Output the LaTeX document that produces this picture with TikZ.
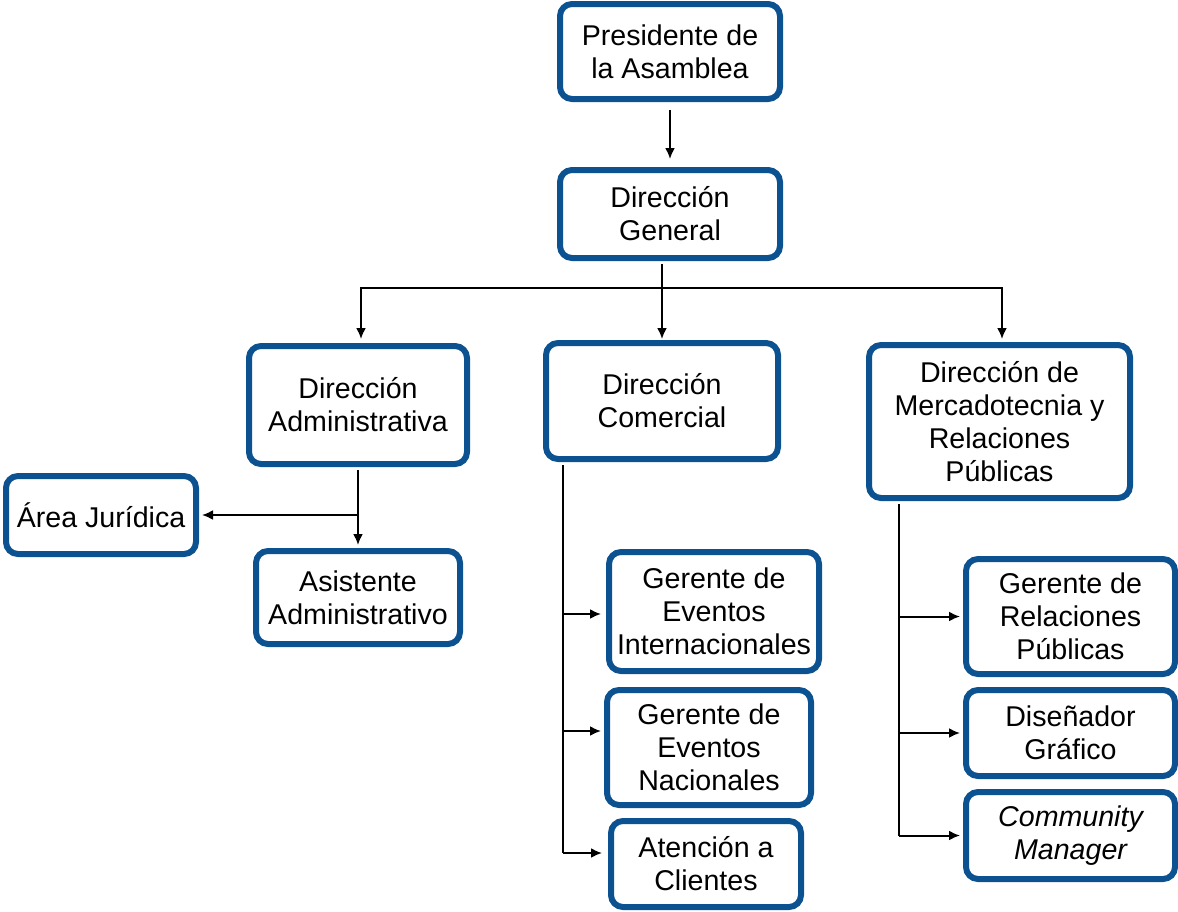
\documentclass[tikz,border=0pt]{standalone}
\usepackage{fontspec}
\setmainfont{Liberation Sans}
\usetikzlibrary{arrows.meta,calc}
\definecolor{boxblue}{RGB}{12,82,145}
\begin{document}
\begin{tikzpicture}[x=0.5pt,y=-0.5pt,
  box/.style={draw=boxblue,line width=3pt,rounded corners=6pt,fill=white,
    align=center,inner sep=0pt,font=\fontsize{14.3}{16.5}\selectfont},
  arr/.style={line width=1pt,-{Latex[length=5.5pt,width=5pt]}},
  ln/.style={line width=1pt}]
\useasboundingbox (0,0) rectangle (1178,911);
\node[box,minimum width=110pt,minimum height=47.5pt] (pres) at (670,51.5) {Presidente de\\la Asamblea};
\node[box,minimum width=110pt,minimum height=44pt] (dg) at (670,214) {Dirección\\General};
\node[box,minimum width=109pt,minimum height=59pt] (adm) at (358,405) {Dirección\\Administrativa};
\node[box,minimum width=116pt,minimum height=58pt] (com) at (662,401) {Dirección\\Comercial};
\node[box,minimum width=130.5pt,minimum height=76.5pt] (mer) at (999.5,421.5) {Dirección de\\Mercadotecnia y\\Relaciones\\Públicas};
\node[box,minimum width=95pt,minimum height=39pt] (jur) at (101,515) {Área Jurídica};
\node[box,minimum width=102pt,minimum height=46.5pt] (asi) at (358,597.5) {Asistente\\Administrativo};
\node[box,minimum width=105pt,minimum height=59.5pt] (gei) at (714,611.5) {Gerente de\\Eventos\\Internacionales};
\node[box,minimum width=102pt,minimum height=57.5pt] (gen) at (709,747.5) {Gerente de\\Eventos\\Nacionales};
\node[box,minimum width=95pt,minimum height=43pt] (ac) at (706,864) {Atención a\\Clientes};
\node[box,minimum width=104.5pt,minimum height=57.5pt] (grp) at (1070.5,616.5) {Gerente de\\Relaciones\\Públicas};
\node[box,minimum width=104.5pt,minimum height=43pt] (dis) at (1070.5,733) {Diseñador\\Gráfico};
\node[box,minimum width=104.5pt,minimum height=43.5pt] (cm) at (1070.5,835.5) {\itshape Community\\\itshape Manager};
% coordinates
\coordinate (hub) at (662,288);
\coordinate (admj) at (358,515);
\coordinate (ctr) at (563,0);
\coordinate (mtr) at (899,0);
\coordinate (geiin) at ([yshift=-1.25pt]gei.west);
\coordinate (genin) at ([yshift=8.25pt]gen.west);
\coordinate (acin) at ([yshift=5.5pt]ac.west);
% top
\draw[arr,shorten <=4pt,shorten >=4pt] (pres.south) -- (dg.north);
\draw[ln,shorten <=1.5pt] (dg.south -| hub) -- (hub);
\draw[arr,shorten >=2pt] (hub) -| ([xshift=1.5pt]adm.north);
\draw[arr,shorten >=0.5pt] (hub) -- (com.north);
\draw[arr,shorten >=1.5pt] (hub) -| ([xshift=1.25pt]mer.north);
% administrativa
\draw[arr,shorten <=1.5pt,shorten >=1.5pt] (adm.south) -- (asi.north);
\draw[arr,shorten >=1.5pt] (admj) -- (jur.east);
% comercial
\draw[ln,shorten <=1.5pt] (com.south -| ctr) -- (ctr |- acin);
\draw[arr,shorten >=2.5pt] (ctr |- geiin) -- (geiin);
\draw[arr,shorten >=1.5pt] (ctr |- genin) -- (genin);
\draw[arr,shorten >=3pt] (ctr |- acin) -- (acin);
% mercadotecnia
\draw[ln,shorten <=1.5pt] (mer.south -| mtr) -- (mtr |- cm.west);
\draw[arr,shorten >=1.5pt] (mtr |- grp.west) -- (grp.west);
\draw[arr,shorten >=1.5pt] (mtr |- dis.west) -- (dis.west);
\draw[arr,shorten >=1.5pt] (mtr |- cm.west) -- (cm.west);
\end{tikzpicture}
\end{document}
